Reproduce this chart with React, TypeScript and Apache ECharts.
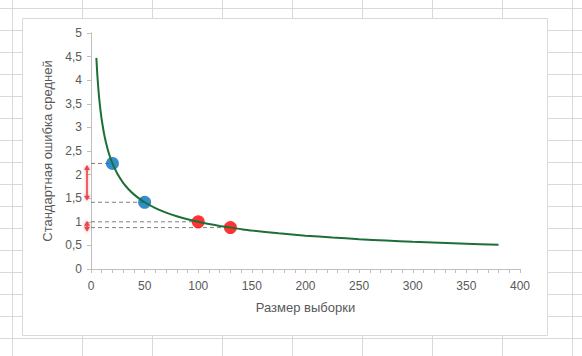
import React, { useEffect, useRef } from "react";
import * as echarts from "echarts";

// Curve: standard error of the mean vs sample size
const sampleSizes = [5, 6, 7, 8, 9, 10, 12, 14, 16, 18, 20, 25, 30, 35, 40, 45, 50, 60, 70, 80, 90, 100, 110, 120, 130, 140, 150, 175, 200, 225, 250, 275, 300, 325, 350, 380];
const stdErrors = [4.472, 4.082, 3.780, 3.536, 3.333, 3.162, 2.887, 2.673, 2.5, 2.357, 2.236, 2.0, 1.826, 1.690, 1.581, 1.491, 1.414, 1.291, 1.195, 1.118, 1.054, 1.0, 0.953, 0.913, 0.877, 0.845, 0.816, 0.756, 0.707, 0.667, 0.632, 0.603, 0.577, 0.555, 0.535, 0.513];

// Highlighted points
const bluePointsN = [20, 50];
const bluePointsSE = [2.236, 1.414];
const redPointsN = [100, 130];
const redPointsSE = [1.0, 0.877];

const xTitle = "Размер выборки";
const yTitle = "Стандартная ошибка средней";

export default function App() {
  const ref = useRef<HTMLDivElement>(null);
  useEffect(() => {
    if (!ref.current) return;
    const chart = echarts.init(ref.current, undefined, { renderer: "svg" });

    const textColor = "#595959";
    const font = "Liberation Sans";

    const curve = sampleSizes.map((n, i) => [n, stdErrors[i]]);
    const blue = bluePointsN.map((n, i) => [n, bluePointsSE[i]]);
    const red = redPointsN.map((n, i) => [n, redPointsSE[i]]);
    const allPts = [...blue, ...red];

    const dashedSeries = allPts.map((p) => ({
      type: "line" as const,
      data: [[0, p[1]], [p[0], p[1]]],
      symbol: "none",
      lineStyle: { color: "#7f7f7f", width: 1, type: [4, 3] as any },
      z: 1,
      silent: true,
    }));

    const arrows = [
      [bluePointsSE[0], bluePointsSE[1]],
      [redPointsSE[0], redPointsSE[1]],
    ];

    // Excel-like worksheet background grid
    const bg: any[] = [];
    for (let k = 0; k <= 8; k++) {
      const x = 12 + 70 * k + 0.5;
      bg.push({ type: "line", shape: { x1: x, y1: 0, x2: x, y2: 356 }, style: { stroke: "#d9d9d9", lineWidth: 1 }, z: -10 });
    }
    for (let k = 0; k <= 15; k++) {
      const y = 8 + 22 * k + 0.5;
      bg.push({ type: "line", shape: { x1: 0, y1: y, x2: 582, y2: y }, style: { stroke: "#d9d9d9", lineWidth: 1 }, z: -10 });
    }
    bg.push({
      type: "rect",
      shape: { x: 22.5, y: 18.5, width: 525, height: 317 },
      style: { fill: "#ffffff", stroke: "#d9d9d9", lineWidth: 1 },
      z: -9,
    });

    chart.setOption({
      animation: false,
      backgroundColor: "#ffffff",
      graphic: bg,
      grid: { left: 91, right: 62, top: 33, bottom: 87, containLabel: false },
      xAxis: {
        type: "value",
        min: 0,
        max: 400,
        interval: 50,
        name: xTitle,
        nameLocation: "middle",
        nameGap: 32,
        nameTextStyle: { color: textColor, fontSize: 13, fontFamily: font },
        axisLine: { show: true, lineStyle: { color: "#bfbfbf", width: 1 } },
        axisTick: { show: true, length: 4, lineStyle: { color: "#bfbfbf" } },
        minorTick: { show: true, splitNumber: 5, length: 4, lineStyle: { color: "#bfbfbf" } },
        axisLabel: { color: textColor, fontSize: 12, fontFamily: font, margin: 11 },
        splitLine: { show: false },
      },
      yAxis: {
        type: "value",
        min: 0,
        max: 5,
        interval: 0.5,
        name: yTitle,
        nameLocation: "middle",
        nameGap: 32,
        nameTextStyle: { color: textColor, fontSize: 13, fontFamily: font },
        axisLine: { show: true, lineStyle: { color: "#bfbfbf", width: 1 } },
        axisTick: { show: true, length: 4, lineStyle: { color: "#bfbfbf" } },
        axisLabel: {
          color: textColor,
          fontSize: 12,
          fontFamily: font,
          margin: 9,
          formatter: (v: number) => String(v).replace(".", ","),
        },
        splitLine: { show: false },
      },
      series: [
        ...dashedSeries,
        {
          type: "scatter",
          data: blue,
          symbolSize: 13,
          itemStyle: { color: "#0070c0" },
          z: 2,
        },
        {
          type: "scatter",
          data: red,
          symbolSize: 13,
          itemStyle: { color: "#ff0000" },
          z: 2,
        },
        {
          type: "line",
          data: curve,
          smooth: 0.3,
          showSymbol: false,
          symbol: "none",
          lineStyle: { color: "#1e6e37", width: 2 },
          z: 3,
        },
        {
          type: "custom",
          clip: false,
          silent: true,
          data: arrows,
          z: 4,
          renderItem: (params: any, api: any) => {
            const a = api.coord([0, api.value(0)]);
            const b = api.coord([0, api.value(1)]);
            const x = a[0] - 4;
            let top = Math.min(a[1], b[1]) + 1.5;
            let bot = Math.max(a[1], b[1]) - 1.5;
            if (bot - top < 11) {
              const c = (top + bot) / 2 + 1.5;
              top = c - 5.5;
              bot = c + 5.5;
            }
            const hw = 3;
            const hl = 5;
            const col = "#e8474a";
            const glow = { shadowBlur: 3, shadowColor: "rgba(232,71,74,0.55)" };
            return {
              type: "group",
              children: [
                {
                  type: "rect",
                  shape: { x: x - 0.8, y: top + hl - 1, width: 1.6, height: bot - top - 2 * hl + 2 },
                  style: { fill: col, ...glow },
                },
                {
                  type: "polygon",
                  shape: { points: [[x, top], [x - hw, top + hl], [x + hw, top + hl]] },
                  style: { fill: col, ...glow },
                },
                {
                  type: "polygon",
                  shape: { points: [[x, bot], [x - hw, bot - hl], [x + hw, bot - hl]] },
                  style: { fill: col, ...glow },
                },
              ],
            };
          },
        },
      ],
    });
    return () => chart.dispose();
  }, []);

  return (
    <div
      ref={ref}
      style={{ position: "fixed", left: 0, top: 0, width: 582, height: 356 }}
    />
  );
}
